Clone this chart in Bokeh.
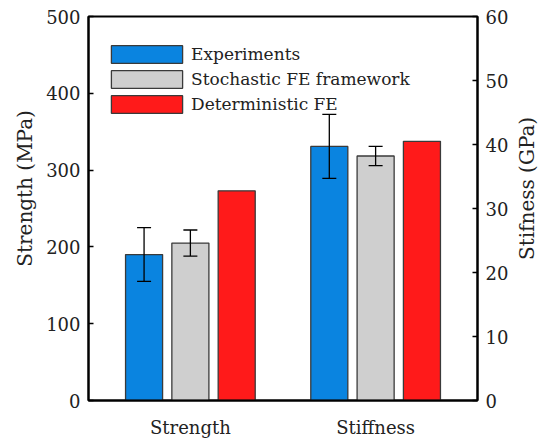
import math
from bokeh.plotting import figure
from bokeh.layouts import row
from bokeh.models import (Range1d, LinearAxis, ColumnDataSource, Whisker, TeeHead,
                          Legend, LegendItem, FixedTicker)
from bokeh.core.properties import value
from bokeh.embed import file_html
from bokeh.resources import INLINE

# Measured properties and the three sources of each value
groups = ["Strength", "Stiffness"]
series = ["Experiments", "Stochastic FE framework", "Deterministic FE"]
colors = ["#0A84E0", "#CFCFCF", "#FF1A1A"]
strength_mpa = [190, 205, 273]      # left axis
strength_sd = [35, 17]              # experiments, stochastic
stiffness_gpa = [39.7, 38.2, 40.5]  # right axis
stiffness_sd = [5.0, 1.5]
left_ticks = [0, 100, 200, 300, 400, 500]
right_ticks = [0, 10, 20, 30, 40, 50, 60]
axis_titles = ["Strength (MPa)", "Stifness (GPa)"]

offsets = [-0.25, 0.0, 0.25]
bar_w = 0.2
FONT = "DejaVu Serif"
TXT = "#222222"
EDGE = "#3A3A3A"
W, H = 539, 440
LEFT_W, RIGHT_W = 40, 28
FRAME_L, FRAME_R = 88, 478

p = figure(width=W - LEFT_W - RIGHT_W, height=H, output_backend="svg",
           toolbar_location=None,
           x_range=Range1d(-0.55, 1.55), y_range=Range1d(0, 500),
           min_border_left=FRAME_L - LEFT_W,
           min_border_right=(W - RIGHT_W) - FRAME_R,
           min_border_top=16, min_border_bottom=40)
p.extra_y_ranges = {"stiff": Range1d(0, 60)}
p.xgrid.visible = False
p.ygrid.visible = False
p.outline_line_color = "black"
p.outline_line_width = 2
p.border_fill_color = "white"

ya = p.yaxis[0]
ya.ticker = FixedTicker(ticks=left_ticks)
right = LinearAxis(y_range_name="stiff", ticker=FixedTicker(ticks=right_ticks))
p.add_layout(right, "right")
for ax in (ya, right):
    ax.axis_line_width = 2
    ax.axis_line_color = "black"
    ax.major_tick_in = 5
    ax.major_tick_out = 0
    ax.major_tick_line_width = 1.5
    ax.minor_tick_line_color = None
    ax.major_label_text_font = FONT
    ax.major_label_text_font_size = "18px"
    ax.major_label_text_color = TXT
    ax.major_label_standoff = 8

xa = p.xaxis[0]
xa.ticker = FixedTicker(ticks=[0, 1])
xa.major_label_overrides = {0: groups[0], 1: groups[1]}
xa.major_tick_line_color = None
xa.minor_tick_line_color = None
xa.axis_line_width = 2
xa.axis_line_color = "black"
xa.major_label_text_font = FONT
xa.major_label_text_font_size = "18px"
xa.major_label_text_color = TXT
xa.major_label_standoff = 10

items = []
for i, (name, col) in enumerate(zip(series, colors)):
    r1 = p.vbar(x=[0 + offsets[i]], top=[strength_mpa[i]], width=bar_w,
                fill_color=col, line_color=EDGE, line_width=1.3)
    p.vbar(x=[1 + offsets[i]], top=[stiffness_gpa[i]], width=bar_w,
           fill_color=col, line_color=EDGE, line_width=1.3,
           y_range_name="stiff")
    items.append(LegendItem(label=name, renderers=[r1]))

# error bars for the first two series
src_s = ColumnDataSource(dict(
    x=[0 + offsets[i] for i in range(2)],
    upper=[strength_mpa[i] + strength_sd[i] for i in range(2)],
    lower=[strength_mpa[i] - strength_sd[i] for i in range(2)]))
src_k = ColumnDataSource(dict(
    x=[1 + offsets[i] for i in range(2)],
    upper=[stiffness_gpa[i] + stiffness_sd[i] for i in range(2)],
    lower=[stiffness_gpa[i] - stiffness_sd[i] for i in range(2)]))
for src, rng in ((src_s, "default"), (src_k, "stiff")):
    w = Whisker(source=src, base="x", upper="upper", lower="lower",
                dimension="height", line_color="black", line_width=1.3,
                upper_head=TeeHead(size=14, line_color="black", line_width=1.3),
                lower_head=TeeHead(size=14, line_color="black", line_width=1.3),
                y_range_name=rng, level="overlay")
    p.add_layout(w)

legend = Legend(items=items, location=(14, 285), margin=0, padding=0,
                glyph_width=89, glyph_height=22, label_height=22,
                spacing=3, label_standoff=-4,
                label_text_font=FONT, label_text_font_size="17px",
                label_text_color=TXT,
                border_line_color=None, background_fill_alpha=0)
p.add_layout(legend)


def title_strip(width, cx, text):
    """A narrow panel holding one rotated axis title."""
    s = figure(width=width, height=H, output_backend="svg", toolbar_location=None,
               x_range=Range1d(0, width), y_range=Range1d(0, H), min_border=0)
    s.axis.visible = False
    s.grid.visible = False
    s.outline_line_color = None
    s.text(x=[cx], y=[H - 197], text=[text], angle=math.pi / 2,
           text_align="center", text_baseline="middle",
           text_font=value(FONT), text_font_size="20px", text_color=TXT)
    return s


layout = row(title_strip(LEFT_W, 24, axis_titles[0]), p,
             title_strip(RIGHT_W, 15, axis_titles[1]))
open("out.html", "w").write(file_html(layout, INLINE))
